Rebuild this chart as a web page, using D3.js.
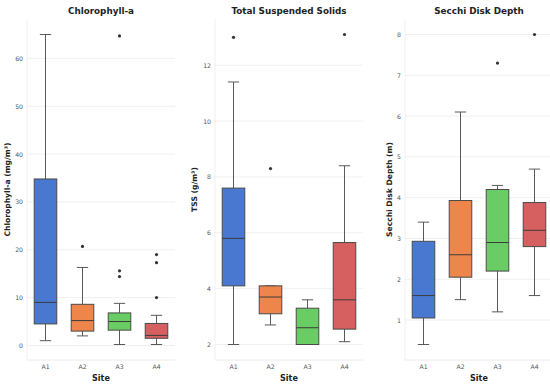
<!DOCTYPE html>
<html><head><meta charset="utf-8">
<script src="https://cdn.jsdelivr.net/npm/d3@7"></script>
<style>body{margin:0;background:#fff}svg{display:block}text{font-family:"DejaVu Sans",sans-serif}</style>
</head><body><svg id="c" width="550" height="385"></svg>
<script>
const sites = ["A1","A2","A3","A4"];
const colors = ["#4878d0","#ee854a","#6acc64","#d65f5f"];

// Chlorophyll-a
const chlLow = [1.0, 2.0, 0.2, 0.2];
const chlQ1  = [4.5, 3.0, 3.2, 1.5];
const chlMed = [9.0, 5.2, 5.0, 2.1];
const chlQ3  = [34.8, 8.6, 6.8, 4.6];
const chlHigh= [65.0, 16.3, 8.8, 6.3];
const chlOut = [[], [20.7], [14.4, 15.6, 64.7], [10.0, 17.3, 19.0]];
const chlTicks = [0,10,20,30,40,50,60];

// TSS
const tssLow = [2.0, 2.7, 2.0, 2.1];
const tssQ1  = [4.1, 3.1, 2.0, 2.55];
const tssMed = [5.8, 3.7, 2.6, 3.6];
const tssQ3  = [7.6, 4.1, 3.3, 5.65];
const tssHigh= [11.4, 4.1, 3.6, 8.4];
const tssOut = [[13.0], [8.3], [], [13.1]];
const tssTicks = [2,4,6,8,10,12];

// Secchi
const sdLow = [0.4, 1.5, 1.2, 1.6];
const sdQ1  = [1.05, 2.05, 2.2, 2.8];
const sdMed = [1.6, 2.6, 2.9, 3.2];
const sdQ3  = [2.93, 3.93, 4.2, 3.88];
const sdHigh= [3.4, 6.1, 4.3, 4.7];
const sdOut = [[], [], [7.3], [8.0]];
const sdTicks = [1,2,3,4,5,6,7,8];

const panels = [
  {title:"Chlorophyll-a", ylab:"Chlorophyll-a (mg/m³)", low:chlLow,q1:chlQ1,med:chlMed,q3:chlQ3,high:chlHigh,out:chlOut,ticks:chlTicks, x0:27, labX:8},
  {title:"Total Suspended Solids", ylab:"TSS (g/m³)", low:tssLow,q1:tssQ1,med:tssMed,q3:tssQ3,high:tssHigh,out:tssOut,ticks:tssTicks, x0:215, labX:195},
  {title:"Secchi Disk Depth", ylab:"Secchi Disk Depth (m)", low:sdLow,q1:sdQ1,med:sdMed,q3:sdQ3,high:sdHigh,out:sdOut,ticks:sdTicks, x0:405, labX:390}
];

const svg = d3.select("#c");
const plotTop = 19, plotBottom = 360, pw = 148;

panels.forEach(p => {
  const g = svg.append("g");
  const all = p.low.concat(p.high, p.out.flat());
  const mn = d3.min(all), mx = d3.max(all), pad = (mx-mn)*0.05;
  const y = d3.scaleLinear().domain([mn-pad, mx+pad]).range([plotBottom, plotTop]);
  const x = d3.scaleBand().domain(sites).range([p.x0, p.x0+pw]).paddingInner(0).paddingOuter(0);
  const bw = x.bandwidth()*0.61;

  g.selectAll(".grid").data(p.ticks).join("line")
    .attr("x1", p.x0).attr("x2", p.x0+pw)
    .attr("y1", d=>y(d)).attr("y2", d=>y(d))
    .attr("stroke","#ececec").attr("stroke-width",0.8);
  g.append("line").attr("x1",p.x0).attr("x2",p.x0).attr("y1",plotTop).attr("y2",plotBottom).attr("stroke","#ececec").attr("stroke-width",0.8);
  g.append("line").attr("x1",p.x0).attr("x2",p.x0+pw).attr("y1",plotBottom).attr("y2",plotBottom).attr("stroke","#e4e4e4").attr("stroke-width",0.8);

  const ya = d3.axisLeft(y).tickValues(p.ticks).tickSize(0).tickPadding(4).tickFormat(d3.format("d"));
  const ag = g.append("g").attr("transform",`translate(${p.x0},0)`).call(ya);
  ag.select(".domain").remove();
  ag.selectAll("text").attr("font-size",6.2).attr("fill","#555").attr("font-family","DejaVu Sans");

  const xa = d3.axisBottom(x).tickSize(0).tickPadding(5);
  const xg = g.append("g").attr("transform",`translate(0,${plotBottom})`).call(xa);
  xg.select(".domain").remove();
  xg.selectAll("text").attr("font-size",6.2).attr("fill","#555").attr("font-family","DejaVu Sans");

  sites.forEach((s,i) => {
    const cx = x(s) + x.bandwidth()/2;
    const lc = "#595959";
    g.append("line").attr("x1",cx).attr("x2",cx).attr("y1",y(p.q3[i])).attr("y2",y(p.high[i])).attr("stroke",lc).attr("stroke-width",1);
    g.append("line").attr("x1",cx).attr("x2",cx).attr("y1",y(p.q1[i])).attr("y2",y(p.low[i])).attr("stroke",lc).attr("stroke-width",1);
    g.append("line").attr("x1",cx-bw/4).attr("x2",cx+bw/4).attr("y1",y(p.high[i])).attr("y2",y(p.high[i])).attr("stroke",lc).attr("stroke-width",1);
    g.append("line").attr("x1",cx-bw/4).attr("x2",cx+bw/4).attr("y1",y(p.low[i])).attr("y2",y(p.low[i])).attr("stroke",lc).attr("stroke-width",1);
    g.append("rect").attr("x",cx-bw/2).attr("width",bw)
      .attr("y",y(p.q3[i])).attr("height",Math.max(0.5,y(p.q1[i])-y(p.q3[i])))
      .attr("fill",colors[i]).attr("stroke","#4a4a4a").attr("stroke-width",1);
    g.append("line").attr("x1",cx-bw/2).attr("x2",cx+bw/2).attr("y1",y(p.med[i])).attr("y2",y(p.med[i])).attr("stroke","#3c3c3c").attr("stroke-width",1);
    g.selectAll(null).data(p.out[i]).join("circle")
      .attr("cx",cx).attr("cy",d=>y(d)).attr("r",1.6).attr("fill","#333");
  });

  g.append("text").attr("x",p.x0+pw/2).attr("y",14).attr("text-anchor","middle")
    .attr("font-size",8.8).attr("font-weight","bold").attr("fill","#222").text(p.title);
  g.append("text").attr("x",p.x0+pw/2).attr("y",381).attr("text-anchor","middle")
    .attr("font-size",8).attr("font-weight","bold").attr("fill","#222").text("Site");
  g.append("text").attr("transform",`translate(${p.labX},${(plotTop+plotBottom)/2}) rotate(-90)`)
    .attr("text-anchor","middle").attr("dominant-baseline","middle")
    .attr("font-size",7.6).attr("font-weight","bold").attr("fill","#222").text(p.ylab);
});
</script></body></html>
